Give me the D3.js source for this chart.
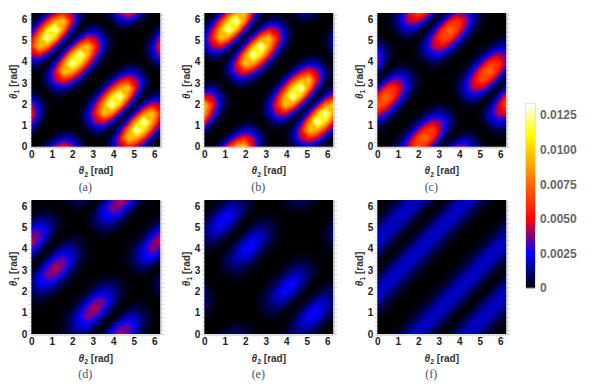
<!DOCTYPE html>
<html>
<head>
<meta charset="utf-8">
<script src="https://cdn.jsdelivr.net/npm/d3@7"></script>
<style>
	body { margin: 0; background: #fff; }
	svg { display: block; }
	text { font-family: "Liberation Sans", sans-serif; }
</style>
</head>
<body>
<svg width="611" height="384"></svg>
<script>
// grid values are read off the picture, in units of 1e-4
// row 0 is theta1 = 0, column 0 is theta2 = 0, 17 samples from 0 to 2 pi
var gridA = [
	[0,1,14,41,57,42,15,1,0,1,15,42,57,41,14,1,0],
	[1,0,1,8,18,17,5,0,1,0,10,49,102,92,57,16,1],
	[14,1,0,0,2,2,0,5,15,10,0,22,80,136,108,57,14],
	[41,8,0,0,0,0,2,17,42,49,22,0,31,93,136,92,41],
	[57,18,2,0,0,0,2,18,57,102,80,31,0,31,80,102,57],
	[42,17,2,0,0,0,0,8,41,92,136,93,31,0,22,49,42],
	[15,5,0,2,2,0,0,1,14,57,108,136,80,22,0,10,15],
	[1,0,5,17,18,8,1,0,1,16,57,92,102,49,10,0,1],
	[0,1,15,42,57,41,14,1,0,1,14,41,57,42,15,1,0],
	[1,0,10,49,102,92,57,16,1,0,1,8,18,17,5,0,1],
	[15,10,0,22,80,136,108,57,14,1,0,0,2,2,0,5,15],
	[42,49,22,0,31,93,136,92,41,8,0,0,0,0,2,17,42],
	[57,102,80,31,0,31,80,102,57,18,2,0,0,0,2,18,57],
	[41,92,136,93,31,0,22,49,42,17,2,0,0,0,0,8,41],
	[14,57,108,136,80,22,0,10,15,5,0,2,2,0,0,1,14],
	[1,16,57,92,102,49,10,0,1,0,5,17,18,8,1,0,1],
	[0,1,14,41,57,42,15,1,0,1,15,42,57,41,14,1,0]
];
var gridB = [
	[0,1,16,57,92,102,49,10,0,1,0,5,17,18,8,1,0],
	[1,0,1,14,41,57,42,15,1,0,1,15,42,57,41,14,1],
	[16,1,0,1,8,18,17,5,0,1,0,10,49,102,92,57,16],
	[57,14,1,0,0,2,2,0,5,15,10,0,22,80,136,108,57],
	[92,41,8,0,0,0,0,2,17,42,49,22,0,31,93,136,92],
	[102,57,18,2,0,0,0,2,18,57,102,80,31,0,31,80,102],
	[49,42,17,2,0,0,0,0,8,41,92,136,93,31,0,22,49],
	[10,15,5,0,2,2,0,0,1,14,57,108,136,80,22,0,10],
	[0,1,0,5,17,18,8,1,0,1,16,57,92,102,49,10,0],
	[1,0,1,15,42,57,41,14,1,0,1,14,41,57,42,15,1],
	[0,1,0,10,49,102,92,57,16,1,0,1,8,18,17,5,0],
	[5,15,10,0,22,80,136,108,57,14,1,0,0,2,2,0,5],
	[17,42,49,22,0,31,93,136,92,41,8,0,0,0,0,2,17],
	[18,57,102,80,31,0,31,80,102,57,18,2,0,0,0,2,18],
	[8,41,92,136,93,31,0,22,49,42,17,2,0,0,0,0,8],
	[1,14,57,108,136,80,22,0,10,15,5,0,2,2,0,0,1],
	[0,1,16,57,92,102,49,10,0,1,0,5,17,18,8,1,0]
];
var gridC = [
	[0,0,4,20,50,71,57,19,0,15,37,35,17,4,0,0,0],
	[0,0,1,7,31,66,78,55,15,0,8,15,9,1,0,1,0],
	[4,1,0,1,10,35,63,65,37,8,0,2,1,0,4,7,4],
	[20,7,1,0,1,9,28,43,35,15,2,0,0,3,15,25,20],
	[50,31,10,1,0,1,6,15,17,9,1,0,0,4,21,45,50],
	[71,66,35,9,1,0,0,3,4,1,0,3,4,0,11,43,71],
	[57,78,63,28,6,0,0,0,0,0,4,15,21,11,0,17,57],
	[19,55,65,43,15,3,0,0,0,1,7,25,45,43,17,0,19],
	[0,15,37,35,17,4,0,0,0,0,4,20,50,71,57,19,0],
	[15,0,8,15,9,1,0,1,0,0,1,7,31,66,78,55,15],
	[37,8,0,2,1,0,4,7,4,1,0,1,10,35,63,65,37],
	[35,15,2,0,0,3,15,25,20,7,1,0,1,9,28,43,35],
	[17,9,1,0,0,4,21,45,50,31,10,1,0,1,6,15,17],
	[4,1,0,3,4,0,11,43,71,66,35,9,1,0,0,3,4],
	[0,0,4,15,21,11,0,17,57,78,63,28,6,0,0,0,0],
	[0,1,7,25,45,43,17,0,19,55,65,43,15,3,0,0,0],
	[0,0,4,20,50,71,57,19,0,15,37,35,17,4,0,0,0]
];
var gridD = [
	[0,0,0,0,2,8,11,6,0,9,30,46,36,15,3,0,0],
	[0,0,0,1,4,13,24,23,9,0,10,29,36,23,8,2,0],
	[0,0,0,0,2,11,26,39,30,10,0,8,19,18,9,2,0],
	[0,1,0,0,1,4,16,37,46,29,8,0,4,8,5,1,0],
	[2,4,2,1,0,1,5,18,36,36,19,4,0,1,1,0,2],
	[8,13,11,4,1,0,1,5,15,23,18,8,1,0,0,2,8],
	[11,24,26,16,5,1,0,1,3,8,9,5,1,0,0,2,11],
	[6,23,39,37,18,5,1,0,0,2,2,1,0,2,2,0,6],
	[0,9,30,46,36,15,3,0,0,0,0,0,2,8,11,6,0],
	[9,0,10,29,36,23,8,2,0,0,0,1,4,13,24,23,9],
	[30,10,0,8,19,18,9,2,0,0,0,0,2,11,26,39,30],
	[46,29,8,0,4,8,5,1,0,1,0,0,1,4,16,37,46],
	[36,36,19,4,0,1,1,0,2,4,2,1,0,1,5,18,36],
	[15,23,18,8,1,0,0,2,8,13,11,4,1,0,1,5,15],
	[3,8,9,5,1,0,0,2,11,24,26,16,5,1,0,1,3],
	[0,2,2,1,0,2,2,0,6,23,39,37,18,5,1,0,0],
	[0,0,0,0,2,8,11,6,0,9,30,46,36,15,3,0,0]
];
var gridE = [
	[0,0,3,8,11,8,3,0,0,0,3,8,11,8,3,0,0],
	[0,0,0,2,4,3,1,0,0,0,2,10,19,19,11,3,0],
	[3,0,0,0,0,0,0,1,3,2,0,4,16,29,23,11,3],
	[8,2,0,0,0,0,0,3,8,10,4,0,6,19,29,19,8],
	[11,4,0,0,0,0,0,4,11,19,16,6,0,6,16,19,11],
	[8,3,0,0,0,0,0,2,8,19,29,19,6,0,4,10,8],
	[3,1,0,0,0,0,0,0,3,11,23,29,16,4,0,2,3],
	[0,0,1,3,4,2,0,0,0,3,11,19,19,10,2,0,0],
	[0,0,3,8,11,8,3,0,0,0,3,8,11,8,3,0,0],
	[0,0,2,10,19,19,11,3,0,0,0,2,4,3,1,0,0],
	[3,2,0,4,16,29,23,11,3,0,0,0,0,0,0,1,3],
	[8,10,4,0,6,19,29,19,8,2,0,0,0,0,0,3,8],
	[11,19,16,6,0,6,16,19,11,4,0,0,0,0,0,4,11],
	[8,19,29,19,6,0,4,10,8,3,0,0,0,0,0,2,8],
	[3,11,23,29,16,4,0,2,3,1,0,0,0,0,0,0,3],
	[0,3,11,19,19,10,2,0,0,0,1,3,4,2,0,0,0],
	[0,0,3,8,11,8,3,0,0,0,3,8,11,8,3,0,0]
];
var gridF = [
	[0,0,3,9,18,21,15,5,0,5,15,21,18,9,3,0,0],
	[0,0,0,3,9,18,21,15,5,0,5,15,21,18,9,3,0],
	[3,0,0,0,3,9,18,21,15,5,0,5,15,21,18,9,3],
	[9,3,0,0,0,3,9,18,21,15,5,0,5,15,21,18,9],
	[18,9,3,0,0,0,3,9,18,21,15,5,0,5,15,21,18],
	[21,18,9,3,0,0,0,3,9,18,21,15,5,0,5,15,21],
	[15,21,18,9,3,0,0,0,3,9,18,21,15,5,0,5,15],
	[5,15,21,18,9,3,0,0,0,3,9,18,21,15,5,0,5],
	[0,5,15,21,18,9,3,0,0,0,3,9,18,21,15,5,0],
	[5,0,5,15,21,18,9,3,0,0,0,3,9,18,21,15,5],
	[15,5,0,5,15,21,18,9,3,0,0,0,3,9,18,21,15],
	[21,15,5,0,5,15,21,18,9,3,0,0,0,3,9,18,21],
	[18,21,15,5,0,5,15,21,18,9,3,0,0,0,3,9,18],
	[9,18,21,15,5,0,5,15,21,18,9,3,0,0,0,3,9],
	[3,9,18,21,15,5,0,5,15,21,18,9,3,0,0,0,3],
	[0,3,9,18,21,15,5,0,5,15,21,18,9,3,0,0,0],
	[0,0,3,9,18,21,15,5,0,5,15,21,18,9,3,0,0]
];
var captions = ['(a)', '(b)', '(c)', '(d)', '(e)', '(f)'];
var axisTicks = [0, 1, 2, 3, 4, 5, 6];
var legendTicks = [0, 25, 50, 75, 100, 125];
var legendLabels = ['0', '0.0025', '0.0050', '0.0075', '0.0100', '0.0125'];
var colorStops = [0, 25, 50, 111, 133];
var colorNames = ['#000000', '#0000ff', '#ff0000', '#ffff00', '#ffffff'];

var grids = [gridA, gridB, gridC, gridD, gridE, gridF];
var minorTicks = d3.range(0, 6.3, 0.2);
var twoPi = 2 * Math.PI;
var nSamples = 17;
var step = 1.5;

var colX = [31.4, 204.4, 377.4];
var rowY = [{ top: 13, bottom: 146.7 }, { top: 200, bottom: 334 }];
var plotW = 128.8;

var color = d3.scaleLinear().domain(colorStops).range(colorNames).clamp(true);
var contours = d3.contours().size([nSamples, nSamples]).thresholds(d3.range(0.5, 137, step));

var svg = d3.select('svg');
var defs = svg.append('defs');

defs.append('filter')
	.attr('id', 'soften')
	.attr('color-interpolation-filters', 'sRGB')
	.attr('x', '-5%').attr('y', '-5%').attr('width', '110%').attr('height', '110%')
	.append('feGaussianBlur')
	.attr('stdDeviation', 1.1);

grids.forEach(function(grid, n) {
	var left = colX[n % 3];
	var row = rowY[Math.floor(n / 3)];
	var x = d3.scaleLinear().domain([0, twoPi]).range([left, left + plotW]);
	var y = d3.scaleLinear().domain([0, twoPi]).range([row.bottom, row.top]);

	// contour coordinates run from 0 to nSamples, sample k sits at k + 0.5
	var gx = d3.scaleLinear().domain([0.5, nSamples - 0.5]).range(x.range());
	var gy = d3.scaleLinear().domain([0.5, nSamples - 0.5]).range(y.range());
	var path = d3.geoPath(d3.geoTransform({
		point: function(px, py) { this.stream.point(gx(px), gy(py)); }
	}));

	defs.append('clipPath')
		.attr('id', 'clip' + n)
		.append('rect')
		.attr('x', left).attr('y', row.top)
		.attr('width', plotW).attr('height', row.bottom - row.top);

	var g = svg.append('g');

	// pale minor ticks around the frame
	var right = g.append('g')
		.attr('transform', `translate(${left + plotW + 0.5}, 0)`)
		.call(d3.axisRight(y).tickValues(minorTicks).tickSize(3.5).tickFormat('').tickSizeOuter(0));
	var lft = g.append('g')
		.attr('transform', `translate(${left - 0.5}, 0)`)
		.call(d3.axisLeft(y).tickValues(minorTicks).tickSize(2).tickFormat('').tickSizeOuter(0));
	var bot = g.append('g')
		.attr('transform', `translate(0, ${row.bottom + 0.5})`)
		.call(d3.axisBottom(x).tickValues(minorTicks).tickSize(2).tickFormat('').tickSizeOuter(0));
	[right, lft, bot].forEach(function(a) {
		a.selectAll('line').attr('stroke', '#d2d2d2');
		a.select('.domain').attr('stroke', '#c4c4c4');
	});

	var img = g.append('g').attr('clip-path', `url(#clip${n})`)
		.append('g').attr('filter', 'url(#soften)');

	img.append('rect')
		.attr('x', left - 8).attr('y', row.top - 8)
		.attr('width', plotW + 16).attr('height', row.bottom - row.top + 16)
		.attr('fill', '#000');

	img.selectAll('path')
		.data(contours(d3.merge(grid)).filter(d => d.coordinates.length))
		.enter()
		.append('path')
			.attr('d', path)
			.attr('fill', d => color(d.value + step / 2));

	// tick labels
	var xAxis = g.append('g')
		.attr('transform', `translate(0, ${row.bottom})`)
		.call(d3.axisBottom(x).tickValues(axisTicks).tickFormat(d3.format('d')).tickSize(0).tickPadding(4));
	var yAxis = g.append('g')
		.attr('transform', `translate(${left}, 0)`)
		.call(d3.axisLeft(y).tickValues(axisTicks).tickFormat(d3.format('d')).tickSize(0).tickPadding(4));
	[xAxis, yAxis].forEach(function(a) {
		a.select('.domain').remove();
		a.selectAll('text')
			.style('font-family', '"Liberation Sans", sans-serif')
			.style('font-size', '10px')
			.style('font-weight', 'bold')
			.attr('fill', '#222');
	});

	// axis titles
	var xTitle = g.append('text')
		.attr('x', left + plotW / 2)
		.attr('y', row.bottom + 27.5)
		.style('text-anchor', 'middle')
		.style('font-size', '10px')
		.style('font-weight', 'bold')
		.attr('fill', '#333');
	xTitle.append('tspan').style('font-style', 'italic').text('θ');
	xTitle.append('tspan').attr('dy', 2.5).style('font-size', '7px').text('2');
	xTitle.append('tspan').attr('dy', -2.5).text(' [rad]');

	var yTitle = g.append('text')
		.attr('transform', `translate(${left - 14.5}, ${(row.top + row.bottom) / 2 + 2}) rotate(-90)`)
		.style('text-anchor', 'middle')
		.style('font-size', '10px')
		.style('font-weight', 'bold')
		.attr('fill', '#333');
	yTitle.append('tspan').style('font-style', 'italic').text('θ');
	yTitle.append('tspan').attr('dy', 2.5).style('font-size', '7px').text('1');
	yTitle.append('tspan').attr('dy', -2.5).text(' [rad]');

	// caption, a little left of the panel centre
	g.append('text')
		.attr('x', left + plotW / 2 - 10.5)
		.attr('y', row.bottom + 44)
		.style('text-anchor', 'middle')
		.style('font-family', '"Liberation Serif", serif')
		.style('font-size', '12px')
		.attr('fill', '#4a5068')
		.text(captions[n]);
});

// colour bar
var legendScale = d3.scaleLinear().domain([0, 125]).range([288, 115]);
var legendSteps = d3.range(0, 133.5, 0.5);

svg.append('g')
	.selectAll('rect')
	.data(legendSteps)
	.enter()
	.append('rect')
		.attr('x', 526)
		.attr('width', 9)
		.attr('y', d => legendScale(d + 0.5) - 0.3)
		.attr('height', legendScale(0) - legendScale(0.5) + 0.6)
		.attr('fill', d => color(d));

svg.append('rect')
	.attr('x', 525.5)
	.attr('y', legendScale(133.5))
	.attr('width', 10)
	.attr('height', legendScale(0) - legendScale(133.5))
	.attr('fill', 'none')
	.attr('stroke', '#cfcfcf')
	.attr('stroke-width', 0.6);

var legendAxis = svg.append('g')
	.attr('transform', 'translate(535, 0)')
	.call(d3.axisRight(legendScale)
		.tickValues(legendTicks)
		.tickSize(0)
		.tickPadding(5)
		.tickFormat((d, i) => legendLabels[i]));
legendAxis.select('.domain').remove();
legendAxis.selectAll('text')
	.style('font-family', '"Liberation Sans", sans-serif')
	.style('font-size', '12px')
	.style('font-weight', 'bold')
	.attr('fill', '#666');
</script>
</body>
</html>
